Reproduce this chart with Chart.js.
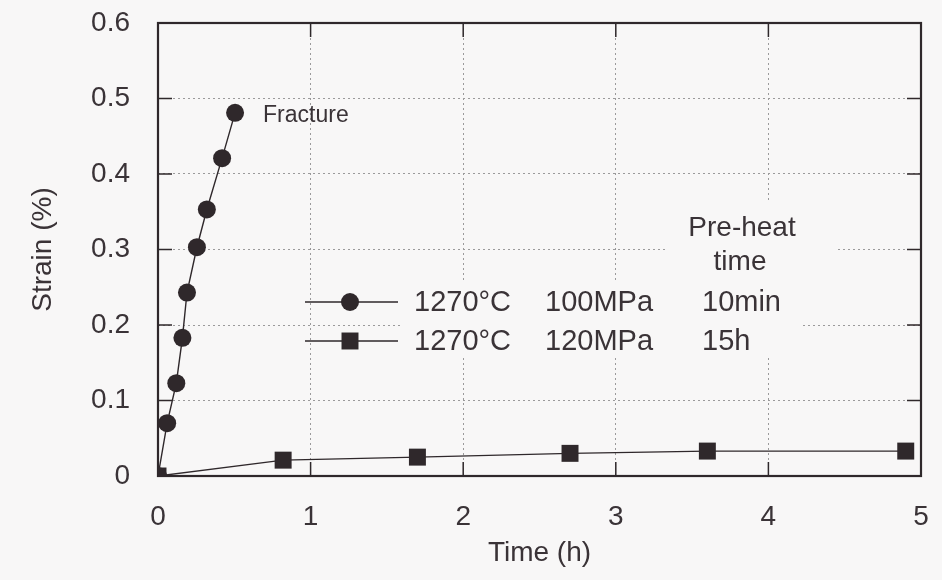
<!DOCTYPE html>
<html>
<head>
<meta charset="utf-8">
<script src="https://cdn.jsdelivr.net/npm/chart.js@4/dist/chart.umd.min.js"></script>
<style>
  html, body { margin: 0; background: #f8f7f7; }
  #wrap { width: 942px; height: 580px; }
</style>
</head>
<body>
<div id="wrap"><canvas id="c" width="942" height="580"></canvas></div>
<script>
// --- data ---
var timeA   = [0, 0.06, 0.12, 0.16, 0.19, 0.255, 0.32, 0.42, 0.505];
var strainA = [0, 0.070, 0.123, 0.183, 0.243, 0.303, 0.353, 0.421, 0.481];
var timeB   = [0, 0.82, 1.70, 2.70, 3.60, 4.90];
var strainB = [0, 0.021, 0.025, 0.030, 0.033, 0.033];
var xTicks = [0, 1, 2, 3, 4, 5];
var yTicks = [0, 0.1, 0.2, 0.3, 0.4, 0.5, 0.6];
var legendRows = [
  ['1270°C', '100MPa', '10min'],
  ['1270°C', '120MPa', '15h']
];
var legendHead = ['Pre-heat', 'time'];
var fractureLabel = 'Fracture';

var INK = '#2f282b', TXT = '#3a3337', GRID = '#9b9a9b', BG = '#f8f7f7';
var FONT = '"Liberation Sans", Arial, sans-serif';

function pts(xs, ys) { return xs.map(function (x, i) { return { x: x, y: ys[i] }; }); }

var styles = [
  { pointStyle: 'circle', radius: 9 },
  { pointStyle: 'rect', radius: 12 }
];

// decorations: blanked boxes behind text, frame + inward ticks, legend, notes
var deco = {
  id: 'deco',
  beforeDatasetsDraw: function (chart) {
    var ctx = chart.ctx, a = chart.chartArea, sx = chart.scales.x, sy = chart.scales.y;
    ctx.save();
    ctx.fillStyle = BG;
    ctx.fillRect(400, 282, 402, 76);   // legend text box
    ctx.fillRect(667, 200, 168, 82);   // "Pre-heat time" box
    ctx.strokeStyle = INK;
    ctx.lineWidth = 1.5;
    var tl = 14;
    ctx.beginPath();
    xTicks.forEach(function (v) {
      var px = sx.getPixelForValue(v);
      ctx.moveTo(px, a.bottom); ctx.lineTo(px, a.bottom - tl);
      ctx.moveTo(px, a.top); ctx.lineTo(px, a.top + tl);
    });
    yTicks.forEach(function (v) {
      var py = sy.getPixelForValue(v);
      ctx.moveTo(a.left, py); ctx.lineTo(a.left + tl, py);
      ctx.moveTo(a.right, py); ctx.lineTo(a.right - tl, py);
    });
    ctx.stroke();
    ctx.lineWidth = 2.2;
    ctx.strokeRect(a.left, a.top, a.right - a.left, a.bottom - a.top);
    ctx.restore();
  },
  afterDatasetsDraw: function (chart) {
    var ctx = chart.ctx, sx = chart.scales.x, sy = chart.scales.y;
    ctx.save();
    ctx.fillStyle = TXT;
    ctx.textBaseline = 'middle';
    // Fracture note next to last point of first series
    ctx.font = '23px ' + FONT;
    ctx.textAlign = 'left';
    var n = timeA.length - 1;
    ctx.fillText(fractureLabel, sx.getPixelForValue(timeA[n]) + 28, sy.getPixelForValue(strainA[n]) + 3);
    // legend header
    ctx.font = '28px ' + FONT;
    ctx.textAlign = 'center';
    ctx.fillText(legendHead[0], 742, 228);
    ctx.fillText(legendHead[1], 740, 262);
    // legend rows
    var cols = [414, 545, 702], rowY = [302, 341];
    ctx.font = '29px ' + FONT;
    legendRows.forEach(function (row, i) {
      var y = rowY[i];
      ctx.strokeStyle = INK; ctx.lineWidth = 1.3;
      ctx.beginPath(); ctx.moveTo(305, y); ctx.lineTo(398, y); ctx.stroke();
      ctx.fillStyle = INK;
      Chart.helpers.drawPoint(ctx, { pointStyle: styles[i].pointStyle, radius: styles[i].radius, borderWidth: 0 }, 350, y);
      ctx.fillStyle = TXT;
      ctx.textAlign = 'left';
      row.forEach(function (t, j) { ctx.fillText(t, cols[j], y + 1); });
    });
    ctx.restore();
  }
};

function dataset(xs, ys, st) {
  return {
    data: pts(xs, ys),
    showLine: true,
    borderColor: INK,
    borderWidth: 1.4,
    backgroundColor: INK,
    pointBackgroundColor: INK,
    pointBorderColor: INK,
    pointBorderWidth: 0,
    pointStyle: st.pointStyle,
    pointRadius: st.radius,
    pointHoverRadius: st.radius,
    tension: 0
  };
}

new Chart(document.getElementById('c').getContext('2d'), {
  type: 'scatter',
  data: { datasets: [dataset(timeA, strainA, styles[0]), dataset(timeB, strainB, styles[1])] },
  plugins: [deco],
  options: {
    responsive: false,
    animation: false,
    events: [],
    layout: { padding: { top: 23, right: 21, left: 0, bottom: 0 } },
    plugins: { legend: { display: false }, tooltip: { enabled: false } },
    scales: {
      x: {
        type: 'linear', min: 0, max: 5,
        afterBuildTicks: function (s) { s.ticks = xTicks.map(function (v) { return { value: v }; }); },
        afterFit: function (s) { s.height = 104; s.paddingLeft = 0; s.paddingRight = 0; },
        ticks: { font: { family: FONT, size: 28 }, color: TXT, padding: 24, maxRotation: 0 },
        grid: { color: GRID, lineWidth: 1, drawTicks: false },
        border: { display: false, dash: [2, 3] },
        title: { display: true, text: 'Time (h)', font: { family: FONT, size: 28 }, color: TXT, padding: { top: 0, bottom: 10 } }
      },
      y: {
        type: 'linear', min: 0, max: 0.6,
        afterBuildTicks: function (s) { s.ticks = yTicks.map(function (v) { return { value: v }; }); },
        afterFit: function (s) { s.width = 158; s.paddingTop = 0; s.paddingBottom = 0; },
        ticks: {
          font: { family: FONT, size: 28 }, color: TXT, padding: 28,
          callback: function (v) { return v === 0 ? '0' : v.toFixed(1); }
        },
        grid: { color: GRID, lineWidth: 1, drawTicks: false },
        border: { display: false, dash: [2, 3] },
        title: { display: true, text: 'Strain (%)', font: { family: FONT, size: 28 }, color: TXT, padding: { top: 26, bottom: 0 } }
      }
    }
  }
});
</script>
</body>
</html>
